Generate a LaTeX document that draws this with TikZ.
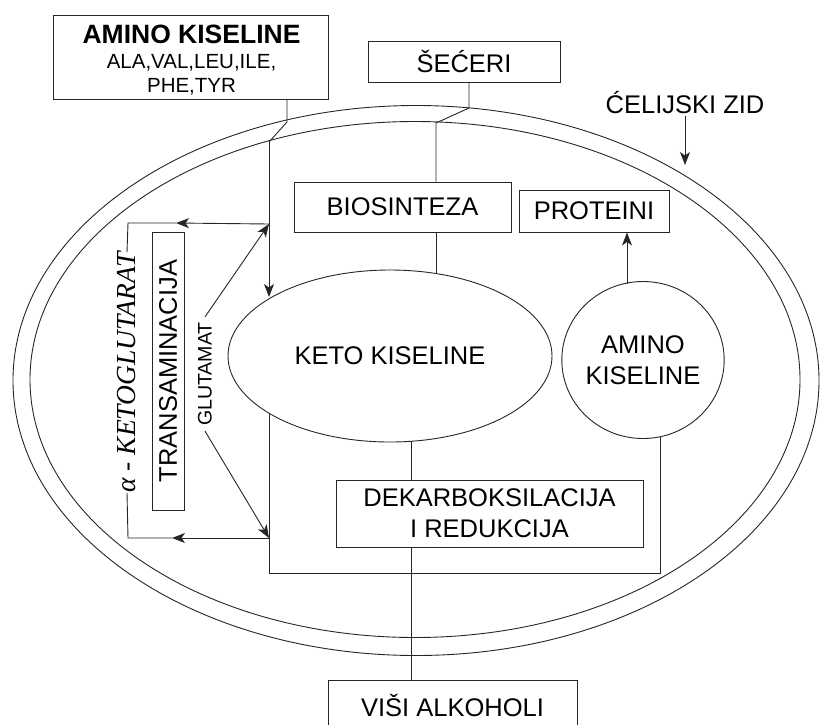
\documentclass[tikz,border=0pt]{standalone}
\usepackage{fontspec}
\setmainfont{Liberation Sans}
\newfontfamily\serifit{Liberation Serif}
\usetikzlibrary{shapes.geometric,arrows.meta}
\begin{document}
\begin{tikzpicture}[x=1pt,y=-1pt,
  ln/.style={draw=black!85,line width=0.9pt},
  box/.style={ln,rectangle,inner sep=0pt,align=center,font=\fontsize{25.5}{31}\selectfont},
  oval/.style={ln,ellipse,inner sep=0pt,align=center,font=\fontsize{25.5}{31}\selectfont},
  arr/.style={ln,-{Stealth[length=13pt,width=10pt,inset=3.5pt]}},
  lbl/.style={inner sep=0pt,font=\fontsize{25.5}{31}\selectfont}]
\useasboundingbox (0,0) rectangle (822,724);
% cell wall
\draw[ln] (416,380.5) ellipse [x radius=403pt, y radius=275pt];
\draw[ln] (415,379.5) ellipse [x radius=385pt, y radius=258pt];
% nodes
\node[box,minimum width=275pt,minimum height=84pt] (amino) at (190.5,57) {};
\node[align=center,inner sep=0pt,font=\fontsize{20.5}{24}\selectfont] (aminotxt) at (191.5,60)
  {\textbf{\fontsize{26.5}{28}\selectfont AMINO KISELINE}\\[1pt]ALA,VAL,LEU,ILE,\\PHE,TYR};
\node[box,minimum width=192pt,minimum height=41pt] (secer) at (464,61.5) {ŠEĆERI};
\node[lbl] (zid) at (685,103) {ĆELIJSKI ZID};
\node[box,minimum width=217pt,minimum height=50pt] (bio) at (402.5,207) {BIOSINTEZA};
\node[box,minimum width=150pt,minimum height=42pt] (prot) at (594,211) {PROTEINI};
\node[oval,minimum width=324pt,minimum height=172pt] (keto) at (390,356) {KETO KISELINE};
\node[oval,minimum width=150pt,minimum height=157pt] (akis) at (643,360) {AMINO\\KISELINE};
\node[box,minimum width=307pt,minimum height=67pt] (dek) at (489.5,513.5) {DEKARBOKSILACIJA\\I REDUKCIJA};
\node[box,minimum width=249pt,minimum height=50pt] (visi) at (452.5,705) {VIŠI ALKOHOLI};
\node[box,rotate=90,minimum width=278pt,minimum height=32pt] (trans) at (168,371) {TRANSAMINACIJA};
\node[rotate=90,inner sep=5pt,font=\fontsize{19.6}{22}\selectfont] (glut) at (205,374) {GLUTAMAT};
\node[rotate=90,inner sep=0pt,font=\serifit\itshape\fontsize{27.5}{30}\selectfont] (akg) at (127,372.5) {α - KETOGLUTARAT};
% coordinates
\coordinate (a1) at (287,122);
\coordinate (a2) at (269,142);
\coordinate (a3) at (269,297);
\coordinate (s1) at (469,108);
\coordinate (s2) at (436,123);
\coordinate (k1) at (436,273.5);
\coordinate (k2) at (411,441.3);
\coordinate (gt) at (269,224);
\coordinate (gb) at (269,538);
\coordinate (ht) at (176,223);
\coordinate (hb) at (172,538);
\coordinate (ct) at (128,223);
\coordinate (cb) at (128,538);
\coordinate (l1) at (269,413.5);
\coordinate (l2) at (269,573);
\coordinate (r2) at (660,573);
\coordinate (r1) at (660,436.5);
\coordinate (p1) at (627,284);
\coordinate (z1) at (685,116);
\coordinate (z2) at (685,165);
% connectors
\draw[ln] (amino.south -| a1) -- (a1) -- (a2);
\draw[arr] (a2) -- (a3);
\draw[ln] (secer.south -| s1) -- (s1) -- (s2) -- (bio.north -| s2);
\draw[ln] (bio.south -| k1) -- (k1);
\draw[ln] (k2) -- (dek.north -| k2);
\draw[ln] (dek.south -| k2) -- (visi.north -| k2);
\draw[ln] (l1) -- (l2) -- (r2) -- (r1);
\draw[arr] (p1) -- (prot.south -| p1);
\draw[arr] (z1) -- (z2);
\draw[arr] (glut.east) -- (gt);
\draw[arr] (glut.west) -- (gb);
\draw[arr] (gt) -- (ht);
\draw[ln] (ht) -- (ct) -- (akg.east);
\draw[arr] (gb) -- (hb);
\draw[ln] (hb) -- (cb) -- (akg.west);
\end{tikzpicture}
\end{document}
